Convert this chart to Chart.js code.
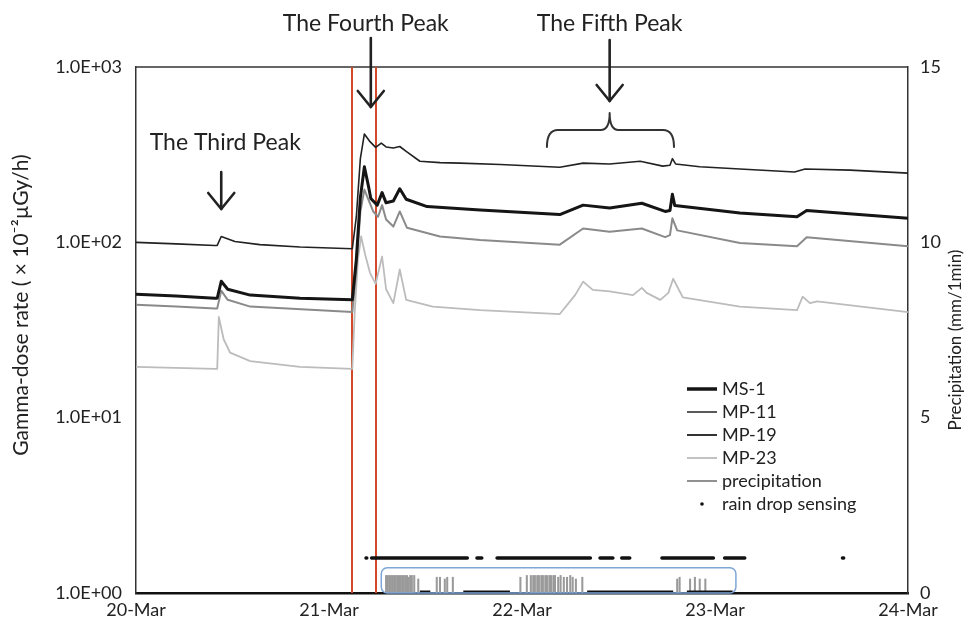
<!DOCTYPE html>
<html><head><meta charset="utf-8">
<script src="https://cdn.jsdelivr.net/npm/chart.js@4.4.1/dist/chart.umd.min.js"></script>
<style>html,body{margin:0;padding:0;background:#fff;}#wrap{width:968px;height:632px;}</style>
</head><body><div id="wrap"><canvas id="c" width="968" height="632"></canvas></div>
<script>
// ---- data (x in hours since 20-Mar 00:00) ----
const dayLabels = ['20-Mar','21-Mar','22-Mar','23-Mar','24-Mar'];
const leftTicks = [1,10,100,1000];
const leftTickLabels = ['1.0E+00','1.0E+01','1.0E+02','1.0E+03'];
const rightTicks = [0,5,10,15];

const ms1Hours  = [0,5,9.8,10.1,10.6,11.4,14.2,20.4,26.9,27.4,27.9,28.4,28.9,29.2,30.0,30.6,31.1,32.0,32.8,33.6,36.2,42.8,52.7,55.6,58.9,62.9,65.8,66.4,66.7,67.0,75.1,82.2,83.4,96];
const ms1Values = [50.5,49.5,48,48,60,54,50,48,47,80,180,270,210,178,163,192,168,172,202,176,160,153,144,163,157,167,150,152,188,162,147,140,152,137];

const mp11Hours  = [0,5,9.8,10.1,10.6,12.3,15.4,20.4,26.9,27.4,27.9,28.4,29.1,29.8,30.5,31.1,32.0,32.8,33.6,35.3,37.8,40.3,45.3,52.7,55.6,58.9,62.7,65.5,66.4,66.7,67.1,70.1,75.1,81.9,83.2,88.8,96];
const mp11Values = [100,98,96,96,108,101,97,94,92,140,300,415,375,348,368,350,345,352,330,290,285,283,278,268,283,280,290,272,275,300,280,270,262,252,262,258,248];

const mp19Hours  = [0,5,9.8,10.1,10.6,11.4,14.2,26.9,27.4,27.9,28.4,28.9,29.5,30.1,30.6,31.1,32.0,32.8,33.7,37.8,42.8,52.7,55.6,58.9,62.9,65.8,66.4,66.7,67.3,75.1,82.2,83.4,96];
const mp19Values = [44,43,42,42,53,47,43,40,70,150,200,175,150,140,163,135,123,150,121,108,103,97,120,115,120,107,110,137,117,99,95,107,95];

const mp23Hours  = [0,9.8,10.1,10.3,10.9,11.7,14.2,20.4,26.9,27.2,27.6,28.0,28.5,29.1,29.8,30.6,31.1,32.0,32.8,33.6,36.9,42.8,52.7,54.6,55.6,56.8,58.9,61.8,62.9,63.5,65.2,66.2,66.8,68.0,75.1,82.2,82.9,83.8,84.7,96];
const mp23Values = [19.5,19,19,37.5,28,23.5,21,19.5,19,40,80,108,85,67,58,83,54,45,70,47,43,41,39,50,59.7,53.6,52.5,50,55,51.5,47,51.5,62,48.5,43,41,49,45,46,40];

const precipHours  = [31.1,31.3,31.5,31.7,31.9,32.1,32.3,32.5,32.7,32.9,33.1,33.3,33.5,33.7,33.9,34.1,34.3,34.6,35.1,37.4,37.8,38.4,38.7,39.4,47.8,48.6,49.1,49.4,49.6,49.9,50.1,50.4,50.6,50.9,51.1,51.4,51.6,51.9,52.1,52.5,52.8,53.2,53.6,54.0,54.3,54.7,55.5,67.3,67.6,68.9,69.5,70.1,70.8];
const precipValues = [0.5,0.5,0.5,0.5,0.5,0.5,0.5,0.5,0.5,0.5,0.5,0.5,0.5,0.5,0.45,0.5,0.5,0.5,0.4,0.45,0.45,0.4,0.45,0.45,0.45,0.5,0.5,0.5,0.5,0.5,0.5,0.5,0.5,0.5,0.5,0.5,0.5,0.5,0.5,0.45,0.5,0.45,0.45,0.5,0.45,0.4,0.45,0.4,0.45,0.4,0.45,0.4,0.4];

// rain drop sensing intervals (start/end hours)
const rainOnStart = [28.6,29.3,42.4,44.9,57.7,60.4,65.4,73.2,87.85];
const rainOnEnd   = [28.7,41.2,43.0,56.5,59.3,61.4,71.8,75.7,88.0];
const rainOffStart = [35.3,40.7,56.1,68.5];
const rainOffEnd   = [36.6,46.5,66.8,74.2];

const markerHours = [26.9,29.9];          // vertical red lines
const rainBoxHours = [30.5,74.6];          // blue box span

// ---- helpers ----
const zip = (xs, ys) => xs.map((x,i)=>({x, y: ys[i]}));
function segs(starts, ends, v){
  const out=[];
  starts.forEach((s,i)=>{ out.push({x:s,y:v},{x:ends[i],y:v},{x:ends[i]+0.01,y:null}); });
  return out;
}

const FONT = 'Lato';
Chart.defaults.font.family = FONT;
Chart.defaults.color = '#222';

const series = [
  {label:'MS-1',  color:'#151515', width:3,   data: zip(ms1Hours, ms1Values)},
  {label:'MP-11', color:'#222222', width:1.6, data: zip(mp11Hours, mp11Values)},
  {label:'MP-19', color:'#8a8a8a', width:2,   data: zip(mp19Hours, mp19Values)},
  {label:'MP-23', color:'#bcbcbc', width:1.8, data: zip(mp23Hours, mp23Values)}
];

const datasets = series.map(s=>({
  type:'line', label:s.label, data:s.data, yAxisID:'y', borderColor:s.color,
  borderWidth:s.width, pointRadius:0, tension:0, fill:false, borderJoinStyle:'round'
}));
datasets.push({
  type:'line', label:'rain drop sensing', data: segs(rainOnStart, rainOnEnd, 1), yAxisID:'y2',
  borderColor:'#111', borderWidth:3.5, pointRadius:0, spanGaps:false, borderCapStyle:'round'
});
datasets.push({
  type:'line', label:'rain off', data: segs(rainOffStart, rainOffEnd, 0.03), yAxisID:'y2',
  borderColor:'#111', borderWidth:3, pointRadius:0, spanGaps:false, borderCapStyle:'butt'
});
datasets.push({
  type:'bar', label:'precipitation', data: zip(precipHours, precipValues), yAxisID:'y2',
  backgroundColor:'#9a9a9a', borderWidth:0, barThickness:1.4, grouped:false
});

const legendItems = [
  {label:'MS-1', kind:'line', color:'#151515', width:3.5},
  {label:'MP-11', kind:'line', color:'#222', width:1.5},
  {label:'MP-19', kind:'line', color:'#333', width:2},
  {label:'MP-23', kind:'line', color:'#bcbcbc', width:1.8},
  {label:'precipitation', kind:'line', color:'#222', width:1},
  {label:'rain drop sensing', kind:'dot', color:'#111', width:0}
];

function arrow(ctx, x, y0, y1){
  ctx.beginPath(); ctx.moveTo(x,y0); ctx.lineTo(x,y1); ctx.stroke();
  ctx.beginPath(); ctx.moveTo(x-13,y1-16); ctx.lineTo(x,y1); ctx.lineTo(x+13,y1-16); ctx.stroke();
}

const annot = {
  id:'annot',
  beforeDatasetsDraw(chart){
    const {ctx, chartArea:a, scales:{x}} = chart;
    ctx.save();
    ctx.strokeStyle='#333'; ctx.lineWidth=1.5;
    ctx.beginPath(); ctx.moveTo(a.left,a.top); ctx.lineTo(a.right,a.top); ctx.stroke();
    ctx.strokeStyle='#d24a2a'; ctx.lineWidth=2;
    markerHours.forEach(h=>{const px=Math.round(x.getPixelForValue(h)); ctx.beginPath(); ctx.moveTo(px,a.top); ctx.lineTo(px,a.bottom); ctx.stroke();});
    ctx.restore();
  },
  afterDraw(chart){
    const {ctx, chartArea:a, scales:{x, y, y2}} = chart;
    ctx.save();
    // blue box around precipitation
    const bx0 = x.getPixelForValue(rainBoxHours[0]), bx1 = x.getPixelForValue(rainBoxHours[1]);
    const by0 = y2.getPixelForValue(0.72), by1 = y2.getPixelForValue(0);
    ctx.strokeStyle='#7ea7d8'; ctx.lineWidth=1.5;
    ctx.beginPath(); ctx.roundRect(bx0, by0, bx1-bx0, by1-by0, 6); ctx.stroke();

    // annotations
    ctx.fillStyle='#222'; ctx.strokeStyle='#222'; ctx.lineWidth=2.6; ctx.lineCap='round'; ctx.lineJoin='round';
    ctx.font = '23px '+FONT; ctx.textAlign='center'; ctx.textBaseline='middle';
    const p3 = x.getPixelForValue(10.6), p4 = x.getPixelForValue(29.2), p5 = x.getPixelForValue(58.9);
    ctx.fillText('The Third Peak', p3+4, 143);
    ctx.fillText('The Fourth Peak', p4-5, 24);
    ctx.fillText('The Fifth Peak', p5, 24);
    arrow(ctx, p3, 172, 209);
    arrow(ctx, p4, 38, 107);
    arrow(ctx, p5, 40, 101);
    // brace
    const bl = x.getPixelForValue(51.1), br = x.getPixelForValue(66.9);
    ctx.lineWidth=2; ctx.strokeStyle='#333';
    ctx.beginPath();
    ctx.moveTo(bl,147); ctx.quadraticCurveTo(bl,130,bl+11,130); ctx.lineTo(p5-9,130);
    ctx.quadraticCurveTo(p5,130,p5,113); ctx.quadraticCurveTo(p5,130,p5+9,130);
    ctx.lineTo(br-11,130); ctx.quadraticCurveTo(br,130,br,147); ctx.stroke();

    // legend
    ctx.font='18px '+FONT; ctx.textAlign='left'; ctx.textBaseline='middle';
    legendItems.forEach((it,i)=>{
      const ly = 389 + i*23;
      if(it.kind==='line'){
        ctx.strokeStyle=it.color; ctx.lineWidth=it.width; ctx.lineCap='butt';
        ctx.beginPath(); ctx.moveTo(687,ly); ctx.lineTo(717,ly); ctx.stroke();
      } else {
        ctx.fillStyle=it.color; ctx.beginPath(); ctx.arc(702,ly,1.8,0,Math.PI*2); ctx.fill();
      }
      ctx.fillStyle='#222'; ctx.fillText(it.label, 722, ly);
    });

    // axis titles
    ctx.textAlign='center'; ctx.textBaseline='middle'; ctx.fillStyle='#222';
    ctx.font='21px '+FONT;
    ctx.save(); ctx.translate(21, 305); ctx.rotate(-Math.PI/2);
    ctx.fillText('Gamma-dose rate ( × 10⁻²µGy/h)', 0, 0); ctx.restore();
    ctx.font='17px '+FONT;
    ctx.save(); ctx.translate(956, 340); ctx.rotate(-Math.PI/2);
    ctx.fillText('Precipitation (mm/1min)', 0, 0); ctx.restore();
    ctx.restore();
  }
};

new Chart(document.getElementById('c'), {
  data:{datasets},
  options:{
    responsive:false, animation:false,
    layout:{padding:{top:67,left:0,right:0,bottom:0}},
    plugins:{legend:{display:false}, tooltip:{enabled:false}},
    scales:{
      x:{type:'linear', position:'bottom', min:0, max:96, offset:false,
        afterBuildTicks:s=>{s.ticks=[0,24,48,72,96].map(v=>({value:v}));},
        afterFit:s=>{s.height=39;},
        ticks:{callback:v=>dayLabels[Math.round(v/24)], font:{size:18}, padding:6, maxRotation:0, color:'#222'},
        grid:{display:false, drawTicks:false, offset:false}, border:{display:true, color:'#111', width:2.5}},
      y:{type:'logarithmic', position:'left', min:1, max:1000,
        afterBuildTicks:s=>{s.ticks=leftTicks.map(v=>({value:v}));},
        afterFit:s=>{s.width=136;},
        ticks:{callback:v=>leftTickLabels[leftTicks.indexOf(v)], font:{size:18}, padding:14, color:'#222'},
        grid:{display:false, drawTicks:false}, border:{display:true, color:'#333', width:1.5}},
      y2:{type:'linear', position:'right', min:0, max:15,
        afterBuildTicks:s=>{s.ticks=rightTicks.map(v=>({value:v}));},
        afterFit:s=>{s.width=60;},
        ticks:{font:{size:18}, padding:12, color:'#222'},
        grid:{display:false, drawTicks:false}, border:{display:true, color:'#333', width:1.5}}
    }
  },
  plugins:[annot]
});
</script></body></html>
